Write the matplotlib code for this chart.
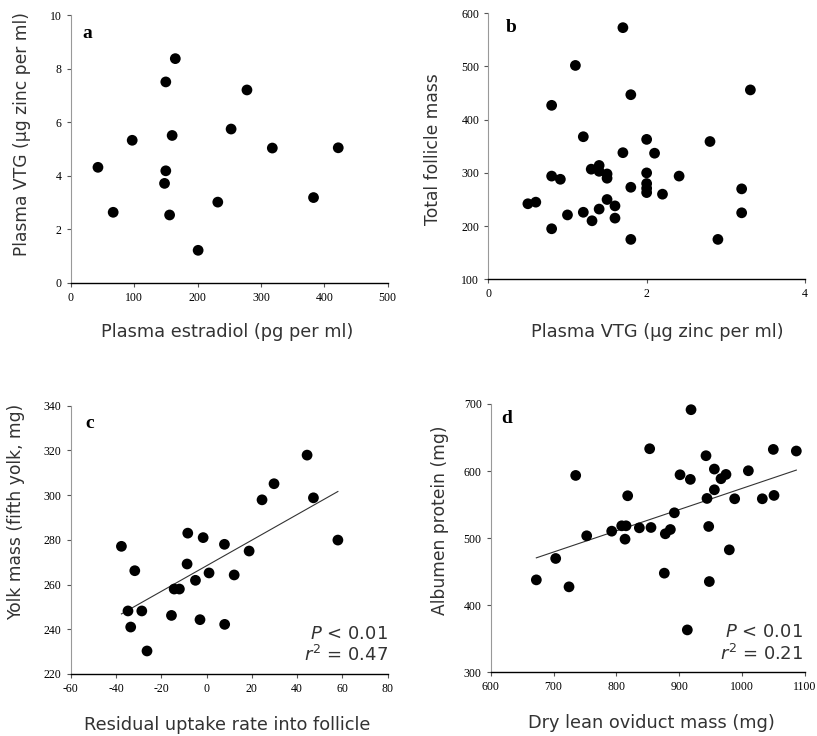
import numpy as np
import matplotlib
matplotlib.use('Agg')
import matplotlib.pyplot as plt

plt.rcParams['axes.unicode_minus'] = False

# panel a: plasma estradiol vs plasma VTG
a_x = [165, 150, 278, 253, 160, 97, 318, 422, 43, 150, 148, 232, 383, 67, 156, 201]
a_y = [8.37, 7.50, 7.20, 5.74, 5.50, 5.32, 5.03, 5.04, 4.31, 4.18, 3.71, 3.01, 3.18, 2.63, 2.53, 1.21]

# panel b: plasma VTG vs total follicle mass
b_x = [1.70, 1.10, 1.80, 3.31, 0.80, 1.20, 2.00, 2.80, 1.70, 2.10, 1.30, 1.40, 1.40,
       1.50, 1.50, 2.00, 0.80, 0.91, 2.41, 1.80, 2.00, 2.00, 2.00, 2.20, 3.20, 0.50,
       0.60, 1.50, 1.60, 1.00, 1.20, 1.40, 1.31, 1.60, 3.20, 0.80, 1.80, 2.90]
b_y = [573, 502, 447, 456, 427, 368, 363, 359, 338, 337, 307, 314, 303,
       298, 290, 300, 294, 288, 294, 273, 280, 271, 263, 260, 270, 242,
       245, 250, 238, 221, 226, 232, 210, 215, 225, 195, 175, 175]

# panel c: residual uptake rate vs yolk mass
c_x = [-37.6, -31.7, -34.7, -28.6, -33.5, -26.3, -15.5, -14.3, -12.0, -8.6, -8.3, -4.9,
       -2.9, -1.5, 1.1, 7.9, 8.0, 12.2, 18.8, 24.5, 29.8, 44.4, 47.2, 58.0]
c_y = [277.1, 266.2, 248.2, 248.2, 241.0, 230.3, 246.2, 258.0, 258.0, 269.2, 283.0, 261.9,
       244.3, 281.0, 265.2, 278.0, 242.2, 264.3, 275.0, 297.9, 305.1, 317.9, 298.8, 279.9]

# panel d: dry lean oviduct mass vs albumen protein
d_x = [672.6, 703.4, 724.6, 735.2, 752.7, 792.5, 808.4, 815.3, 813.7, 817.9, 836.5, 852.9,
       855.0, 876.2, 877.8, 885.8, 892.2, 901.2, 917.6, 918.7, 912.8, 942.5, 944.1, 946.8,
       947.8, 955.8, 955.8, 966.4, 974.3, 979.6, 988.1, 1009.9, 1032.1, 1049.6, 1050.7, 1086.2]
d_y = [437.8, 469.7, 427.4, 593.5, 503.5, 510.4, 518.4, 518.4, 498.5, 563.2, 515.4, 633.3,
       515.9, 447.8, 506.5, 512.9, 537.8, 594.5, 587.6, 691.5, 363.2, 622.9, 559.2, 517.4,
       435.3, 603.0, 572.1, 588.6, 595.0, 482.6, 558.7, 600.5, 558.7, 632.3, 563.7, 629.9]

W, H = 817, 736
LABEL_FONT = 'DejaVu Sans'
TEXT_COLOR = '#333333'

fig = plt.figure(figsize=(W / 100, H / 100), dpi=100)


def px_axes(left, top, right, bottom):
    return fig.add_axes([left / W, 1 - bottom / H, (right - left) / W, (bottom - top) / H])


def style_axes(ax, xlim, ylim, xticks, yticks):
    ax.set_xlim(*xlim)
    ax.set_ylim(*ylim)
    ax.set_xticks(xticks)
    ax.set_yticks(yticks)
    for s in ('top', 'right'):
        ax.spines[s].set_visible(False)
    ax.spines['left'].set_color('#999999')
    ax.spines['left'].set_linewidth(0.8)
    ax.spines['bottom'].set_color('black')
    ax.spines['bottom'].set_linewidth(1.0)
    ax.tick_params(direction='out', length=3, width=0.8, colors='#555555',
                   labelcolor='black', labelsize=8.5)
    for lab in ax.get_xticklabels() + ax.get_yticklabels():
        lab.set_fontfamily('Liberation Serif')


def fig_text(x, y, s, **kw):
    fig.text(x / W, 1 - y / H, s, ha='center', va='center', **kw)


def scatter(ax, x, y):
    ax.scatter(x, y, s=60, color='black', edgecolors='none', clip_on=False, zorder=3)


def fit_line(ax, x, y):
    slope, intercept = np.polyfit(x, y, 1)
    xs = np.array([min(x), max(x)])
    ax.plot(xs, slope * xs + intercept, color='#333333', linewidth=0.8, zorder=2)


# a
ax_a = px_axes(70.7, 15, 387.7, 282.7)
scatter(ax_a, a_x, a_y)
style_axes(ax_a, (0, 500), (0, 10), range(0, 501, 100), range(0, 11, 2))

# b
ax_b = px_axes(488.3, 13.3, 805, 279.3)
scatter(ax_b, b_x, b_y)
style_axes(ax_b, (0, 4), (100, 600), [0, 2, 4], range(100, 601, 100))

# c
ax_c = px_axes(70.7, 405.7, 387.7, 674)
scatter(ax_c, c_x, c_y)
fit_line(ax_c, c_x, c_y)
style_axes(ax_c, (-60, 80), (220, 340), range(-60, 81, 20), range(220, 341, 20))

# d
ax_d = px_axes(490.7, 404, 805, 672.3)
scatter(ax_d, d_x, d_y)
fit_line(ax_d, d_x, d_y)
style_axes(ax_d, (600, 1100), (300, 700), range(600, 1101, 100), range(300, 701, 100))

# panel letters
for x, y, s in [(87, 33, 'a'), (511, 27, 'b'), (90, 423, 'c'), (507, 419, 'd')]:
    fig_text(x, y, s, fontsize=14, fontweight='bold', family='Liberation Serif')

# axis labels
lab_kw = dict(fontsize=12.8, family=LABEL_FONT, color=TEXT_COLOR)
ylab_kw = dict(lab_kw, fontsize=12.3, rotation=90)
fig_text(227, 332, 'Plasma estradiol (pg per ml)', **lab_kw)
fig_text(657, 332, 'Plasma VTG (µg zinc per ml)', **lab_kw)
fig_text(227, 725, 'Residual uptake rate into follicle', **lab_kw)
fig_text(651, 723, 'Dry lean oviduct mass (mg)', **lab_kw)
fig_text(22, 134, 'Plasma VTG (µg zinc per ml)', **ylab_kw)
fig_text(433, 149, 'Total follicle mass', **ylab_kw)
fig_text(16, 512, 'Yolk mass (fifth yolk, mg)', **ylab_kw)
fig_text(440, 520, 'Albumen protein (mg)', **ylab_kw)

# statistics
stat_kw = dict(fontsize=13, family=LABEL_FONT, color=TEXT_COLOR, ha='right', va='center')
fig.text(388 / W, 1 - 634 / H, r'$P$ < 0.01', **stat_kw)
fig.text(388 / W, 1 - 655 / H, r'$r^2$ = 0.47', **stat_kw)
fig.text(803 / W, 1 - 632 / H, r'$P$ < 0.01', **stat_kw)
fig.text(803 / W, 1 - 654 / H, r'$r^2$ = 0.21', **stat_kw)

fig.savefig('out.png', dpi=100, facecolor='white')
